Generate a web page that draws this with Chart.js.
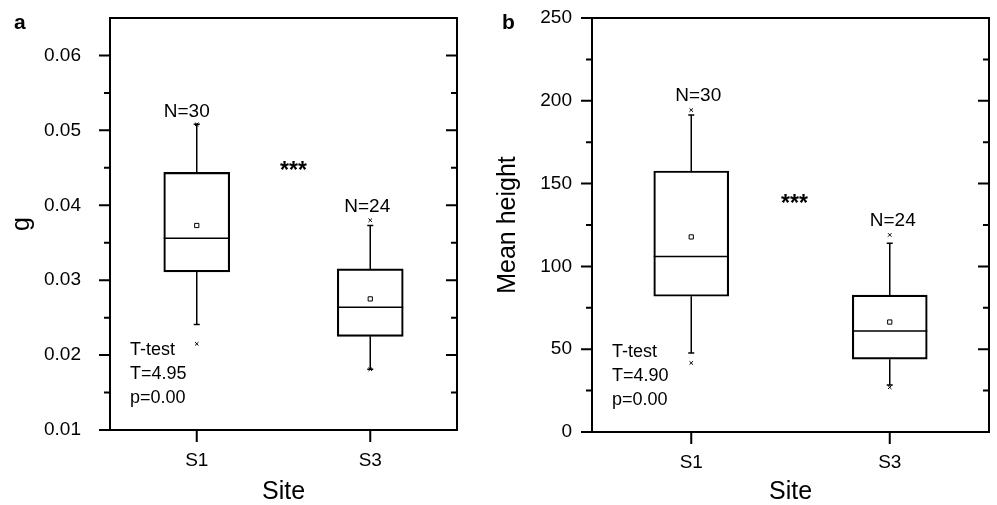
<!DOCTYPE html>
<html>
<head>
<meta charset="utf-8">
<script src="https://cdn.jsdelivr.net/npm/chart.js@4.4.1/dist/chart.umd.min.js"></script>
<style>
  body { margin: 0; background: #fff; }
  #wrapA { position: absolute; left: 0; top: 0; width: 490px; height: 505px; }
  #wrapB { position: absolute; left: 490px; top: 0; width: 507px; height: 505px; }
</style>
</head>
<body>
<div id="wrapA"><canvas id="chartA"></canvas></div>
<div id="wrapB"><canvas id="chartB"></canvas></div>
<script>
const sites = ['S1', 'S3'];

// panel a : g
const gQ1 = [0.0311, 0.0225];
const gMedian = [0.0356, 0.0264];
const gQ3 = [0.0444, 0.0315];
const gWhiskLow = [0.0241, 0.0181];
const gWhiskHigh = [0.0508, 0.0373];
const gMean = [0.0373, 0.0275];
const gMin = [0.0215, 0.0181];
const gMax = [0.0508, 0.0380];
const gTicks = [0.01, 0.02, 0.03, 0.04, 0.05, 0.06];
const gMinorTicks = [0.015, 0.025, 0.035, 0.045, 0.055];
const gNotes = ['N=30', 'N=24'];
const gTest = ['T-test', 'T=4.95', 'p=0.00'];

// panel b : mean height
const hQ1 = [82, 44];
const hMedian = [106, 61];
const hQ3 = [157.6, 82.7];
const hWhiskLow = [47.7, 28.4];
const hWhiskHigh = [191.4, 114];
const hMean = [117.8, 66.4];
const hMin = [41.7, 27];
const hMax = [194.4, 119];
const hTicks = [0, 50, 100, 150, 200, 250];
const hMinorTicks = [25, 75, 125, 175, 225];
const hNotes = ['N=30', 'N=24'];
const hTest = ['T-test', 'T=4.90', 'p=0.00'];

Chart.defaults.font.family = '"Liberation Sans", Arial, sans-serif';
Chart.defaults.color = '#000';

// whiskers, medians, frame, ticks and annotation text
const boxExtras = {
  id: 'boxExtras',
  afterDatasetsDraw(chart, args, o) {
    const ctx = chart.ctx;
    const x = chart.scales.x, y = chart.scales.y;
    const a = chart.chartArea;
    ctx.save();
    ctx.strokeStyle = '#000';
    ctx.lineWidth = 1.5;
    sites.forEach((s, i) => {
      const cx = x.getPixelForValue(i);
      const half = o.boxWidth / 2;
      ctx.beginPath();
      ctx.moveTo(cx - half, y.getPixelForValue(o.median[i]));
      ctx.lineTo(cx + half, y.getPixelForValue(o.median[i]));
      ctx.moveTo(cx, y.getPixelForValue(o.q3[i]));
      ctx.lineTo(cx, y.getPixelForValue(o.whiskHigh[i]));
      ctx.moveTo(cx - 3, y.getPixelForValue(o.whiskHigh[i]));
      ctx.lineTo(cx + 3, y.getPixelForValue(o.whiskHigh[i]));
      ctx.moveTo(cx, y.getPixelForValue(o.q1[i]));
      ctx.lineTo(cx, y.getPixelForValue(o.whiskLow[i]));
      ctx.moveTo(cx - 3, y.getPixelForValue(o.whiskLow[i]));
      ctx.lineTo(cx + 3, y.getPixelForValue(o.whiskLow[i]));
      ctx.stroke();
    });

    // frame
    ctx.lineWidth = 2;
    ctx.strokeRect(a.left, a.top, a.right - a.left, a.bottom - a.top);

    // ticks
    ctx.beginPath();
    o.major.forEach(v => {
      const py = y.getPixelForValue(v);
      ctx.moveTo(a.left - 11, py); ctx.lineTo(a.left, py);
      ctx.moveTo(a.right - 11, py); ctx.lineTo(a.right, py);
    });
    o.minor.forEach(v => {
      const py = y.getPixelForValue(v);
      ctx.moveTo(a.left - 6, py); ctx.lineTo(a.left, py);
      ctx.moveTo(a.right - 6, py); ctx.lineTo(a.right, py);
    });
    sites.forEach((s, i) => {
      const px = x.getPixelForValue(i);
      ctx.moveTo(px, a.bottom); ctx.lineTo(px, a.bottom + 12);
    });
    ctx.stroke();

    // annotations
    ctx.fillStyle = '#000';
    ctx.textAlign = 'center';
    ctx.textBaseline = 'middle';
    ctx.font = '19px "Liberation Sans", Arial, sans-serif';
    o.notes.forEach((t, i) => {
      ctx.fillText(t, x.getPixelForValue(i) + o.noteDx[i], y.getPixelForValue(o.max[i]) - o.noteDy);
    });
    ctx.font = 'bold 23px "Liberation Sans", Arial, sans-serif';
    ctx.fillText('***', (x.getPixelForValue(0) + x.getPixelForValue(1)) / 2 + o.starDx, y.getPixelForValue(o.starY) + 8);
    ctx.textAlign = 'left';
    ctx.font = '18px "Liberation Sans", Arial, sans-serif';
    o.test.forEach((t, i) => {
      ctx.fillText(t, a.left + o.testDx, a.bottom - 80 + i * 24);
    });
    ctx.font = 'bold 21px "Liberation Sans", Arial, sans-serif';
    ctx.fillText(o.letter, o.letterX, 23);
    ctx.restore();
  }
};

function makePanel(id, d) {
  return new Chart(document.getElementById(id), {
    type: 'bar',
    data: {
      labels: sites,
      datasets: [
        {
          data: sites.map((s, i) => [d.q1[i], d.q3[i]]),
          backgroundColor: 'rgba(255,255,255,0)',
          borderColor: '#000',
          borderWidth: 1.5,
          borderSkipped: false,
          barThickness: d.boxWidth,
          order: 2
        },
        {
          type: 'line',
          data: sites.map((s, i) => ({ x: s, y: d.mean[i] })),
          showLine: false,
          pointStyle: 'rect',
          pointRadius: 3,
          pointBackgroundColor: '#fff',
          pointBorderColor: '#000',
          pointBorderWidth: 1,
          order: 1
        },
        {
          type: 'line',
          data: sites.map((s, i) => ({ x: s, y: d.max[i] })).concat(sites.map((s, i) => ({ x: s, y: d.min[i] }))),
          showLine: false,
          pointStyle: 'crossRot',
          pointRadius: 2.5,
          pointBorderColor: '#000',
          pointBorderWidth: 1,
          order: 1
        }
      ]
    },
    options: {
      responsive: true,
      maintainAspectRatio: false,
      animation: false,
      events: [],
      layout: { padding: { left: 0, right: d.padRight, top: 18, bottom: 0 } },
      plugins: {
        legend: { display: false },
        tooltip: { enabled: false },
        boxExtras: d
      },
      scales: {
        x: {
          offset: true,
          grid: { display: false, drawTicks: false },
          border: { display: false },
          ticks: { font: { size: 19 }, padding: 19 },
          title: { display: true, text: 'Site', font: { size: 25, lineHeight: 1 }, padding: 0 },
          afterFit(scale) { scale.height = d.xHeight; }
        },
        y: {
          min: d.min0,
          max: d.max0,
          grid: { display: false, drawTicks: false },
          border: { display: false },
          ticks: {
            stepSize: d.step,
            includeBounds: false,
            font: { size: 19 },
            padding: d.labelPad,
            callback: v => d.major.some(t => Math.abs(t - v) < 1e-9) ? d.fmt(v) : ''
          },
          title: { display: true, text: d.title, font: { size: 25 }, padding: { top: d.titlePad } },
          afterFit(scale) {
            scale.width = d.yWidth;
            scale.paddingTop = 0;
            scale.paddingBottom = 0;
          }
        }
      }
    },
    plugins: [boxExtras]
  });
}

makePanel('chartA', {
  q1: gQ1, median: gMedian, q3: gQ3, whiskLow: gWhiskLow, whiskHigh: gWhiskHigh,
  mean: gMean, min: gMin, max: gMax, major: gTicks, minor: gMinorTicks,
  notes: gNotes, test: gTest, noteDx: [-10, -3], noteDy: 13, starY: 0.0455, starDx: 10, testDx: 20,
  letter: 'a', letterX: 14, boxWidth: 66, padRight: 33, xHeight: 75, yWidth: 110, labelPad: 29,
  min0: 0.01, max0: 0.065, step: 0.01, fmt: v => v.toFixed(2), title: 'g', titlePad: 7
});

makePanel('chartB', {
  q1: hQ1, median: hMedian, q3: hQ3, whiskLow: hWhiskLow, whiskHigh: hWhiskHigh,
  mean: hMean, min: hMin, max: hMax, major: hTicks, minor: hMinorTicks,
  notes: hNotes, test: hTest, noteDx: [7, 3], noteDy: 14, starY: 142, starDx: 4, testDx: 20,
  letter: 'b', letterX: 12, boxWidth: 75, padRight: 8, xHeight: 73, yWidth: 102, labelPad: 20,
  min0: 0, max0: 250, step: 50, fmt: v => String(Math.round(v)), title: 'Mean height', titlePad: 3
});
</script>
</body>
</html>
